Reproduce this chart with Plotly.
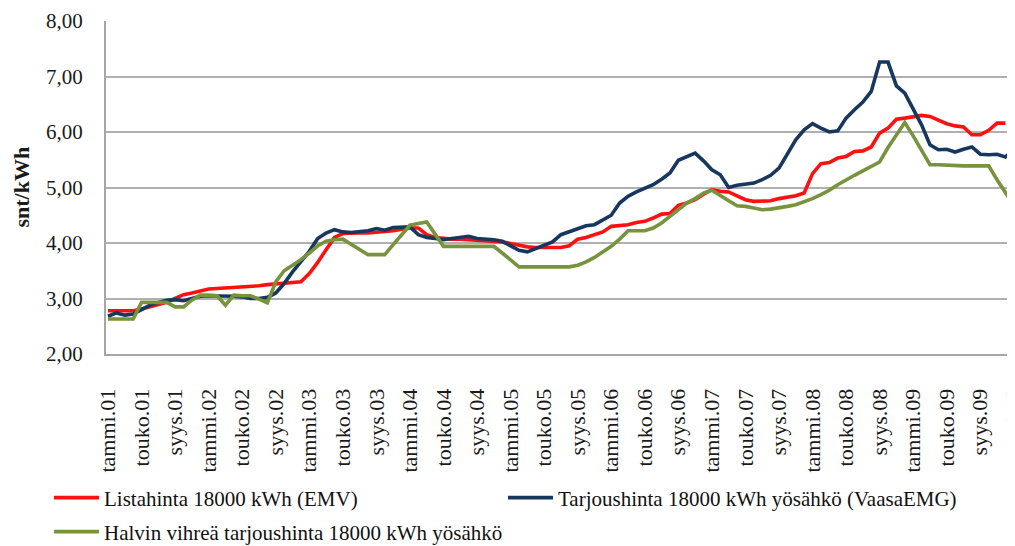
import plotly.graph_objects as go

# ---- data -------------------------------------------------------------
month_names = ["tammi", "helmi", "maalis", "huhti", "touko", "kesä",
               "heinä", "elo", "syys", "loka", "marras", "joulu"]
years = ["01", "02", "03", "04", "05", "06", "07", "08", "09", "10"]
categories = [f"{m}.{y}" for y in years for m in month_names][:109]  # tammi.01 .. tammi.10
tick_labels = categories[::4]

y_title = "snt/kWh"
series_names = ["Listahinta 18000 kWh (EMV)",
                "Tarjoushinta 18000 kWh yösähkö (VaasaEMG)",
                "Halvin vihreä tarjoushinta 18000 kWh yösähkö"]

lista_emv = [
    2.78, 2.78, 2.78, 2.78, 2.81, 2.85, 2.88, 2.93, 3.00, 3.07, 3.10, 3.13,
    3.17, 3.18, 3.19, 3.20, 3.20, 3.21, 3.23, 3.25, 3.26, 3.27, 3.28, 3.30,
    3.45, 3.65, 3.88, 4.10, 4.17, 4.18, 4.18, 4.18, 4.19, 4.20, 4.22, 4.25,
    4.27, 4.27, 4.15, 4.10, 4.08, 4.07, 4.07, 4.06, 4.06, 4.05, 4.04, 4.02,
    3.99, 3.96, 3.93, 3.92, 3.92, 3.92, 3.92, 3.95, 4.07, 4.10, 4.15, 4.20,
    4.30, 4.31, 4.33, 4.37, 4.39, 4.45, 4.52, 4.53, 4.68, 4.72, 4.78, 4.88,
    4.96, 4.93, 4.92, 4.85, 4.78, 4.75, 4.75, 4.76, 4.80, 4.82, 4.85, 4.90,
    5.25, 5.43, 5.45, 5.53, 5.56, 5.65, 5.66, 5.73, 5.98, 6.07, 6.23, 6.25,
    6.27, 6.30, 6.28, 6.22, 6.15, 6.11, 6.09, 5.95, 5.95, 6.03, 6.16, 6.16,
    None,
]

tarjous_vaasa = [
    2.68, 2.74, 2.70, 2.72, 2.80, 2.88, 2.93, 2.97, 2.98, 2.96, 3.00, 3.04,
    3.05, 3.05, 3.05, 3.04, 3.03, 3.00, 3.00, 3.02, 3.10, 3.27, 3.48, 3.66,
    3.85, 4.08, 4.18, 4.24, 4.20, 4.19, 4.20, 4.22, 4.26, 4.23, 4.28, 4.29,
    4.29, 4.15, 4.10, 4.08, 4.06, 4.08, 4.10, 4.12, 4.08, 4.07, 4.06, 4.03,
    3.95, 3.87, 3.84, 3.90, 3.97, 4.02, 4.15, 4.20, 4.25, 4.31, 4.33, 4.42,
    4.50, 4.72, 4.84, 4.92, 4.98, 5.05, 5.15, 5.26, 5.49, 5.56, 5.62, 5.48,
    5.32, 5.23, 5.00, 5.04, 5.06, 5.08, 5.14, 5.22, 5.35, 5.62, 5.86, 6.04,
    6.15, 6.07, 6.00, 6.02, 6.25, 6.40, 6.54, 6.73, 7.26, 7.26, 6.83, 6.70,
    6.40, 6.13, 5.77, 5.68, 5.69, 5.64, 5.69, 5.73, 5.60, 5.59, 5.60, 5.55,
    5.68,
]

halvin_vihrea = [
    2.63, 2.63, 2.63, 2.63, 2.93, 2.93, 2.93, 2.93, 2.85, 2.85, 2.97, 3.06,
    3.06, 3.05, 2.88, 3.06, 3.05, 3.05, 2.99, 2.92, 3.30, 3.50, 3.60, 3.70,
    3.82, 3.95, 4.03, 4.06, 4.07, 3.98, 3.88, 3.79, 3.79, 3.79, 3.97, 4.15,
    4.32, 4.35, 4.38, 4.16, 3.94, 3.94, 3.94, 3.94, 3.94, 3.94, 3.94, 3.82,
    3.69, 3.57, 3.57, 3.57, 3.57, 3.57, 3.57, 3.57, 3.60, 3.66, 3.74, 3.84,
    3.94, 4.07, 4.22, 4.22, 4.22, 4.27, 4.36, 4.48, 4.60, 4.72, 4.80, 4.90,
    4.95, 4.85, 4.76, 4.67, 4.66, 4.63, 4.60, 4.61, 4.63, 4.66, 4.69, 4.74,
    4.80, 4.87, 4.95, 5.05, 5.14, 5.22, 5.30, 5.38, 5.46, 5.72, 5.95, 6.17,
    5.93, 5.66, 5.41, 5.41, 5.40, 5.39, 5.39, 5.39, 5.39, 5.39, 5.14, 4.90,
    4.68,
]

colors = ["#FF1010", "#17375E", "#77933C"]

# ---- figure -----------------------------------------------------------
# The page body keeps its default 8 px margin, so the figure is 8 px
# smaller than the window and every pixel position is measured from there.
FONT = "Liberation Serif"
OFF = 8
W, H = 1015 - OFF, 546 - OFF
L = 106 - OFF
PLOT_W = W - L

fig = go.Figure()
for vals, name, col, lg in zip([lista_emv, tarjous_vaasa, halvin_vihrea],
                               series_names, colors,
                               ["legend", "legend2", "legend3"]):
    fig.add_trace(go.Scatter(x=categories, y=vals, mode="lines", name=name,
                             line=dict(color=col, width=3.6),
                             connectgaps=False, legend=lg))

legend_common = dict(xref="container", yref="container", xanchor="left",
                     yanchor="middle", orientation="h", itemwidth=45,
                     bgcolor="rgba(0,0,0,0)", borderwidth=0,
                     font=dict(family=FONT, size=21, color="#111"))

row1 = 1 - (498 - OFF) / H
row2 = 1 - (532 - OFF) / H

fig.update_layout(
    width=W, height=H, template="none",
    margin=dict(l=L, r=0, t=21 - OFF, b=H - (354 - OFF), pad=0),
    paper_bgcolor="white", plot_bgcolor="white",
    separators=", ",
    font=dict(family=FONT, size=21, color="#1a1a1a"),
    showlegend=True,
    legend=dict(legend_common, x=(49 - OFF) / W, y=row1),
    legend2=dict(legend_common, x=(503 - OFF) / W, y=row1),
    legend3=dict(legend_common, x=(49 - OFF) / W, y=row2),
    xaxis=dict(type="category", range=[-0.24, 108.14],
               tickmode="array", tickvals=tick_labels, ticktext=tick_labels,
               tickangle=-90, ticks="", showgrid=False,
               showline=True, linecolor="#A6A6A6", linewidth=2,
               zeroline=False, automargin=False, ticklabelstandoff=24,
               tickfont=dict(family=FONT, size=22, color="#1a1a1a")),
    yaxis=dict(range=[2, 8], tick0=2, dtick=1, tickformat=".2f",
               ticks="", showgrid=True, gridcolor="#B0B0B0", gridwidth=1.5,
               showline=True, linecolor="#A6A6A6", linewidth=2,
               zeroline=False, automargin=False, ticklabelstandoff=17,
               tickfont=dict(family=FONT, size=21, color="#1a1a1a")),
    annotations=[dict(text=f"<b>{y_title}</b>", textangle=-90,
                      xref="paper", yref="paper",
                      x=(21 - 106) / PLOT_W, y=0.5,
                      xanchor="center", yanchor="middle", showarrow=False,
                      font=dict(family=FONT, size=22, color="#1a1a1a"))],
)

fig.write_html("out.html")
